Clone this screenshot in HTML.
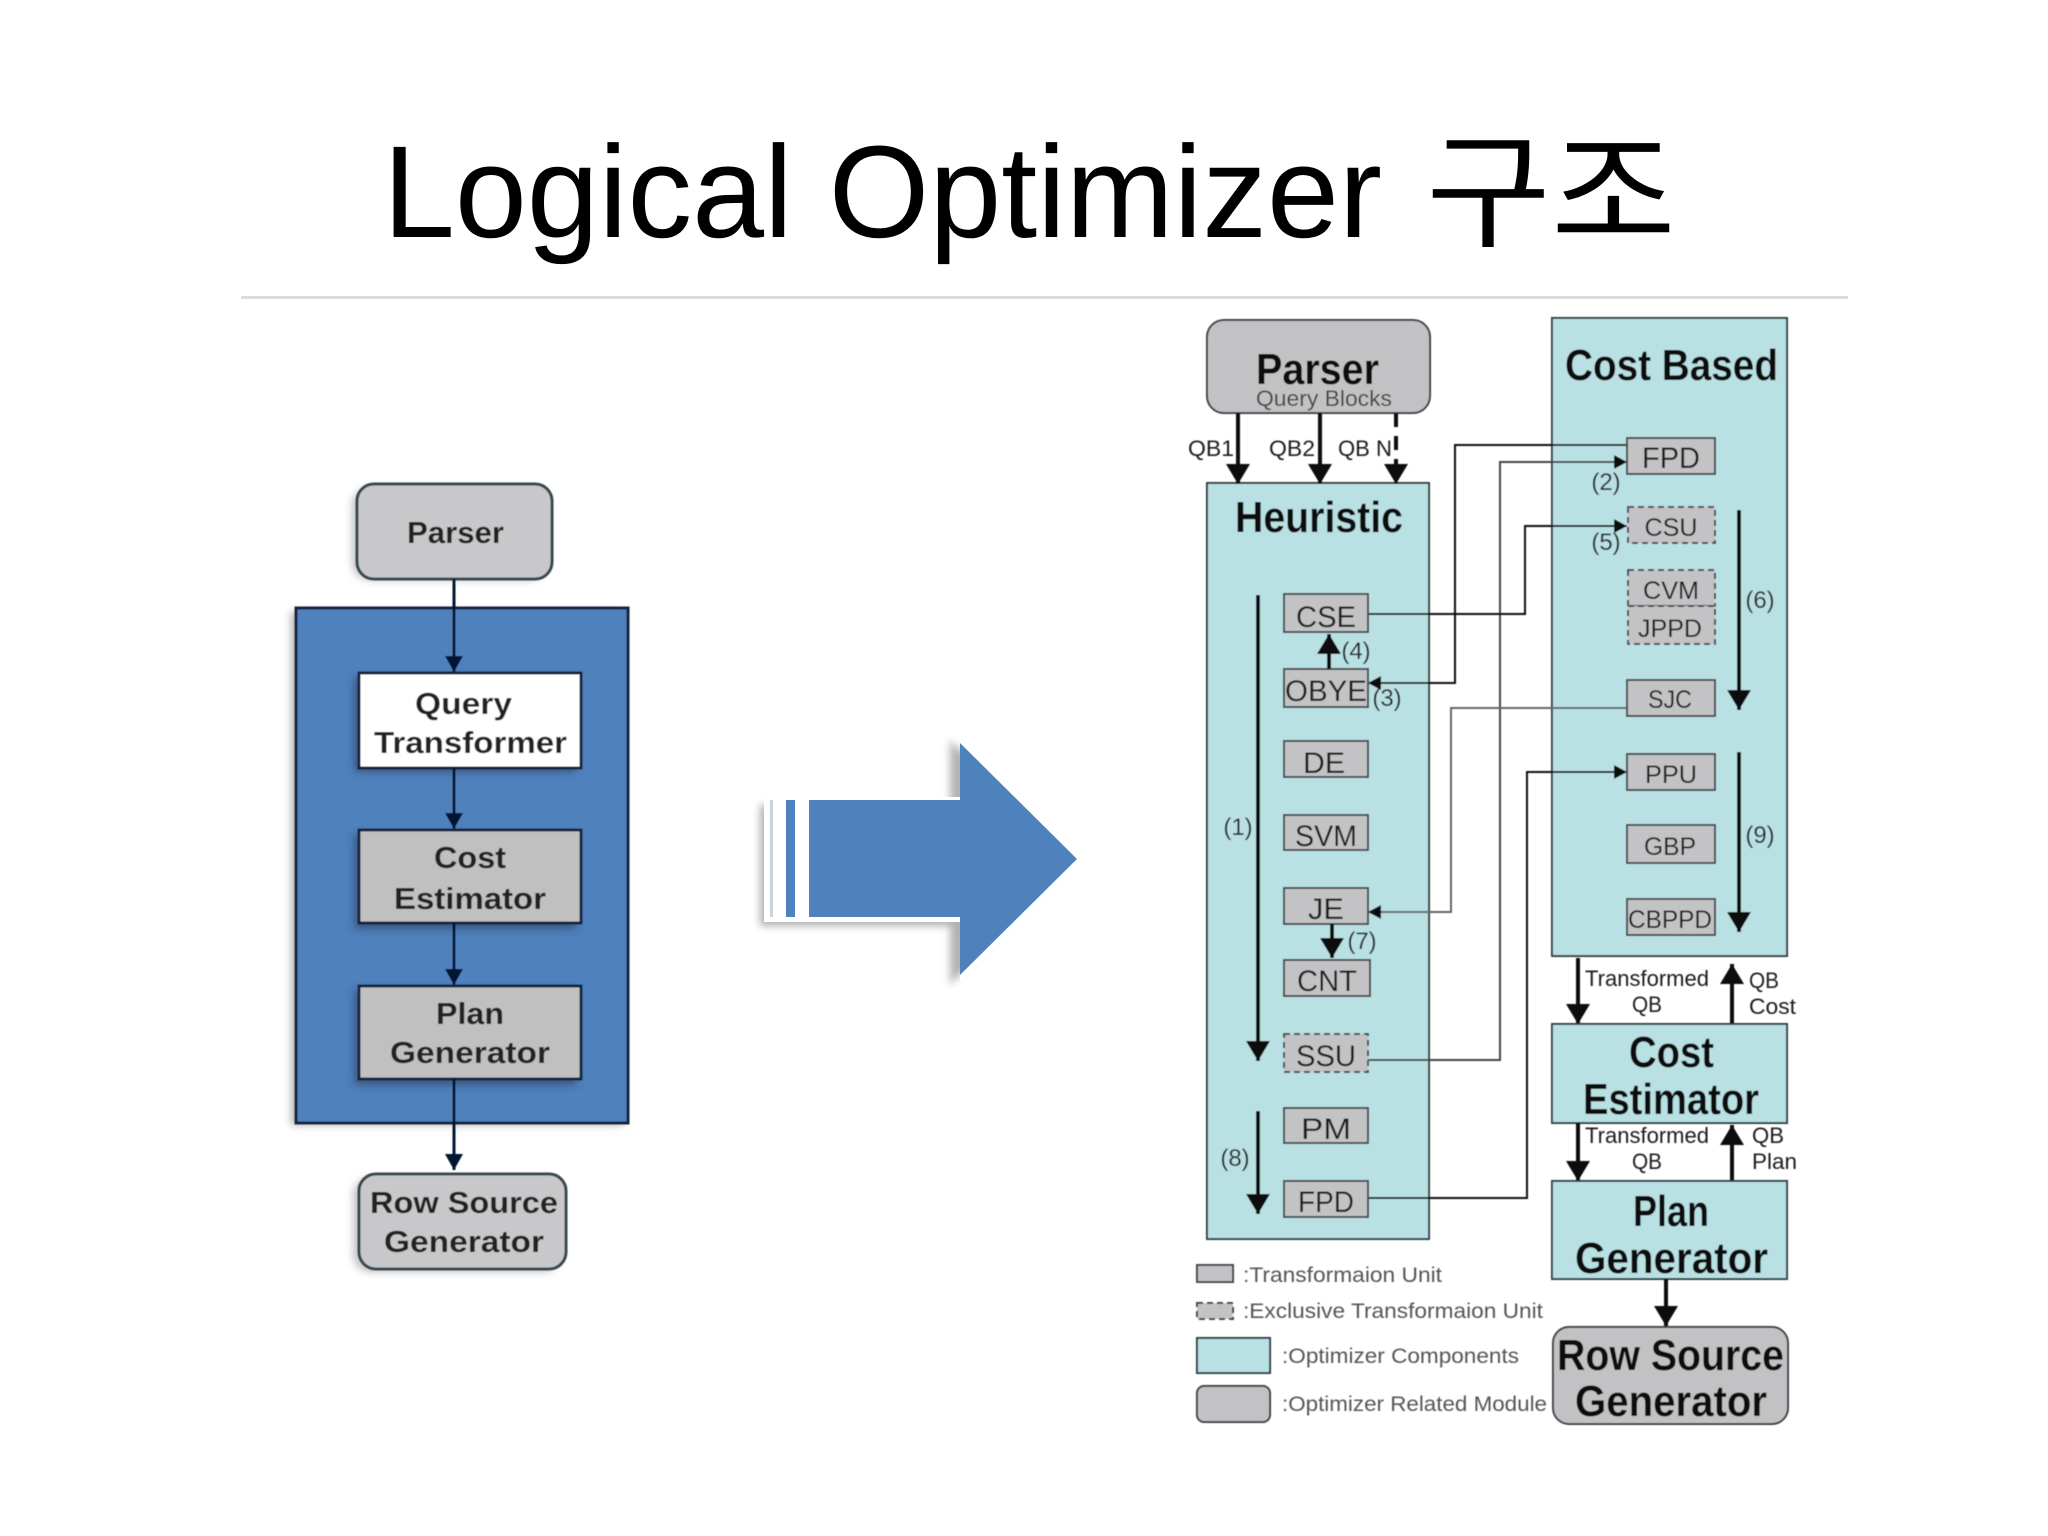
<!DOCTYPE html>
<html lang="ko"><head><meta charset="utf-8"><title>Logical Optimizer 구조</title>
<style>
html,body{margin:0;padding:0;background:#fff;width:2048px;height:1536px;overflow:hidden}
svg{display:block}
text{font-family:"Liberation Sans","Noto Sans CJK KR",sans-serif;fill:#111}
.u{fill:#c3c3c5;stroke:#454a4e;stroke-width:2}
.d{fill:#c3c3c5;stroke:#454a4e;stroke-width:2;stroke-dasharray:6 4}
.p{fill:#b9e0e3;stroke:#2f3f44;stroke-width:2}
.m{fill:#c2c2c4;stroke:#3d4246;stroke-width:2}
.l{fill:none;stroke:#111;stroke-width:2}
.g{fill:none;stroke:#666;stroke-width:2}
.b{fill:none;stroke:#0c0c0c;stroke-width:4}
.n{fill:none;stroke:#061433;stroke-width:3}
.ut{font-size:30px;fill:#1c1c1c;text-anchor:middle}
.us{font-size:25px;fill:#1c1c1c;text-anchor:middle}
.nm{font-size:24px;fill:#222;text-anchor:middle}
.lb{font-size:22px;fill:#1c1c1c}
.lg{font-size:21px;fill:#555}
.h{font-size:44px;font-weight:bold;fill:#0a0a0a}
.lt{font-size:31px;font-weight:bold;fill:#222}
</style></head><body>
<svg xmlns="http://www.w3.org/2000/svg" width="2048" height="1536" viewBox="0 0 2048 1536">
<defs>
<marker id="s" markerUnits="userSpaceOnUse" markerWidth="14" markerHeight="14" refX="13" refY="7" orient="auto"><path d="M0 0L13 7L0 14Z" fill="#111"/></marker>
<marker id="b" markerUnits="userSpaceOnUse" markerWidth="20" markerHeight="24" refX="20" refY="12" orient="auto"><path d="M0 0L20 12L0 24Z" fill="#0a0a0a"/></marker>
<marker id="n" markerUnits="userSpaceOnUse" markerWidth="16" markerHeight="18" refX="16" refY="9" orient="auto"><path d="M0 0L16 9L0 18Z" fill="#061433"/></marker>
<filter id="sh" x="-20%" y="-20%" width="140%" height="140%"><feGaussianBlur stdDeviation="4"/></filter>
<filter id="sf" x="-5%" y="-5%" width="110%" height="110%"><feGaussianBlur stdDeviation="0.6"/></filter>
</defs>
<rect width="2048" height="1536" fill="#fff"/>

<!-- Title -->
<text x="383" y="237" font-size="131" textLength="999" lengthAdjust="spacingAndGlyphs" style="fill:#000">Logical Optimizer</text>
<text x="1426" y="237" font-size="126" textLength="250" lengthAdjust="spacingAndGlyphs" style="fill:#000">구조</text>
<rect x="241" y="296" width="1607" height="3" fill="#dcdcdc"/>

<!-- Left diagram -->
<g filter="url(#sf)">
<rect x="291" y="612" width="332" height="513" fill="#777" filter="url(#sh)" opacity=".55"/>
<rect x="296" y="608" width="332" height="515" fill="#4f81bd" stroke="#14233c" stroke-width="3"/>
<rect x="352" y="488" width="194" height="92" rx="17" fill="#888" filter="url(#sh)" opacity=".5"/>
<rect x="357" y="484" width="195" height="95" rx="17" fill="#c8c8ca" stroke="#36464e" stroke-width="3"/>
<text x="407" y="543" class="lt" textLength="97" lengthAdjust="spacingAndGlyphs">Parser</text>

<path class="n" d="M454 579V672" marker-end="url(#n)"/>
<rect x="354" y="677" width="222" height="95" fill="#234" filter="url(#sh)" opacity=".5"/>
<rect x="359" y="673" width="222" height="95" fill="#fff" stroke="#14233c" stroke-width="3"/>
<text x="415" y="714" class="lt" textLength="97" lengthAdjust="spacingAndGlyphs">Query</text>
<text x="374" y="753" class="lt" textLength="193" lengthAdjust="spacingAndGlyphs">Transformer</text>

<path class="n" d="M454 768V829" marker-end="url(#n)"/>
<rect x="354" y="834" width="222" height="95" fill="#234" filter="url(#sh)" opacity=".5"/>
<rect x="359" y="830" width="222" height="93" fill="#c0c0c0" stroke="#14233c" stroke-width="3"/>
<text x="434" y="868" class="lt" textLength="72" lengthAdjust="spacingAndGlyphs">Cost</text>
<text x="394" y="909" class="lt" textLength="152" lengthAdjust="spacingAndGlyphs">Estimator</text>

<path class="n" d="M454 923V985" marker-end="url(#n)"/>
<rect x="354" y="990" width="222" height="95" fill="#234" filter="url(#sh)" opacity=".5"/>
<rect x="359" y="986" width="222" height="93" fill="#c0c0c0" stroke="#14233c" stroke-width="3"/>
<text x="436" y="1024" class="lt" textLength="68" lengthAdjust="spacingAndGlyphs">Plan</text>
<text x="390" y="1063" class="lt" textLength="160" lengthAdjust="spacingAndGlyphs">Generator</text>

<path class="n" d="M454 1079V1170" marker-end="url(#n)"/>
<rect x="353" y="1178" width="207" height="94" rx="17" fill="#888" filter="url(#sh)" opacity=".5"/>
<rect x="359" y="1174" width="207" height="95" rx="17" fill="#c8c8ca" stroke="#36464e" stroke-width="3"/>
<text x="370" y="1213" class="lt" textLength="188" lengthAdjust="spacingAndGlyphs">Row Source</text>
<text x="384" y="1252" class="lt" textLength="160" lengthAdjust="spacingAndGlyphs">Generator</text>
</g>

<!-- Big arrow -->
<path d="M760 805H950V740L1072 859L950 985V926H760Z" fill="#999" filter="url(#sh)" opacity=".75"/>
<path d="M764 797H960V738L1083 859L960 982V922H764Z" fill="#fff"/>
<path d="M809 800H960V743L1077 859L960 975V917H809Z" fill="#4f81bd"/>
<rect x="786" y="800" width="9" height="117" fill="#4f81bd"/>
<rect x="770" y="800" width="3" height="117" fill="#c9d3de"/>

<!-- Right diagram panels -->
<g filter="url(#sf)">
<rect x="1552" y="318" width="235" height="638" class="p"/>
<rect x="1207" y="483" width="222" height="756" class="p"/>
<rect x="1207" y="320" width="223" height="93" rx="17" class="m"/>
<text x="1256" y="384" class="h" textLength="123" lengthAdjust="spacingAndGlyphs">Parser</text>
<text x="1256" y="406" font-size="22" style="fill:#444" textLength="136" lengthAdjust="spacingAndGlyphs">Query Blocks</text>
<text x="1565" y="380" class="h" textLength="213" lengthAdjust="spacingAndGlyphs">Cost Based</text>
<text x="1235" y="532" class="h" textLength="168" lengthAdjust="spacingAndGlyphs">Heuristic</text>

<!-- Top arrows -->
<path class="b" d="M1238 413V484" marker-end="url(#b)"/>
<path class="b" d="M1320 413V484" marker-end="url(#b)"/>
<path class="b" d="M1396 413V484" stroke-dasharray="14 9" marker-end="url(#b)"/>
<text x="1188" y="456" class="lb" textLength="46" lengthAdjust="spacingAndGlyphs">QB1</text>
<text x="1269" y="456" class="lb" textLength="46" lengthAdjust="spacingAndGlyphs">QB2</text>
<text x="1338" y="456" class="lb" textLength="54" lengthAdjust="spacingAndGlyphs">QB N</text>

<!-- Connectors -->
<path class="l" d="M1627 445H1455V683H1368" marker-end="url(#s)"/>
<path class="l" d="M1367 1060H1500V462H1627" marker-end="url(#s)" style="stroke:#444"/>
<path class="l" d="M1367 614H1525V526H1627" marker-end="url(#s)"/>
<path class="g" d="M1627 708H1451V912H1368" marker-end="url(#s)"/>
<path class="l" d="M1367 1198H1527V772H1627" marker-end="url(#s)"/>

<!-- Heuristic units -->
<rect x="1284" y="594" width="84" height="38" class="u"/><text x="1326" y="627" class="ut" textLength="60" lengthAdjust="spacingAndGlyphs">CSE</text>
<rect x="1284" y="669" width="84" height="38" class="u"/><text x="1326" y="701" class="ut" textLength="82" lengthAdjust="spacingAndGlyphs">OBYE</text>
<rect x="1284" y="741" width="84" height="36" class="u"/><text x="1324" y="773" class="ut" textLength="42" lengthAdjust="spacingAndGlyphs">DE</text>
<rect x="1284" y="815" width="84" height="35" class="u"/><text x="1326" y="846" class="ut" textLength="62" lengthAdjust="spacingAndGlyphs">SVM</text>
<rect x="1284" y="888" width="84" height="36" class="u"/><text x="1326" y="919" class="ut" textLength="36" lengthAdjust="spacingAndGlyphs">JE</text>
<rect x="1284" y="960" width="86" height="36" class="u"/><text x="1327" y="991" class="ut" textLength="60" lengthAdjust="spacingAndGlyphs">CNT</text>
<rect x="1284" y="1034" width="84" height="38" class="d"/><text x="1326" y="1066" class="ut" textLength="60" lengthAdjust="spacingAndGlyphs">SSU</text>
<rect x="1284" y="1108" width="84" height="35" class="u"/><text x="1326" y="1139" class="ut" textLength="50" lengthAdjust="spacingAndGlyphs">PM</text>
<rect x="1284" y="1181" width="84" height="36" class="u"/><text x="1326" y="1212" class="ut" textLength="56" lengthAdjust="spacingAndGlyphs">FPD</text>

<path class="b" d="M1329 669V634" marker-end="url(#b)"/>
<path class="b" d="M1332 924V958" marker-end="url(#b)"/>
<path class="b" d="M1258 595V1061" marker-end="url(#b)"/>
<path class="b" d="M1258 1111V1214" marker-end="url(#b)"/>
<text x="1356" y="659" class="nm">(4)</text>
<text x="1387" y="706" class="nm">(3)</text>
<text x="1362" y="949" class="nm">(7)</text>
<text x="1238" y="835" class="nm">(1)</text>
<text x="1235" y="1166" class="nm">(8)</text>

<!-- Cost based units -->
<rect x="1627" y="438" width="88" height="36" class="u"/><text x="1671" y="468" class="ut" textLength="58" lengthAdjust="spacingAndGlyphs">FPD</text>
<rect x="1628" y="507" width="87" height="36" class="d"/><text x="1671" y="536" class="us" textLength="53" lengthAdjust="spacingAndGlyphs">CSU</text>
<rect x="1628" y="570" width="87" height="36" class="d"/><text x="1671" y="599" class="us" textLength="56" lengthAdjust="spacingAndGlyphs">CVM</text>
<rect x="1628" y="606" width="87" height="38" class="d"/><text x="1670" y="637" class="us" textLength="64" lengthAdjust="spacingAndGlyphs">JPPD</text>
<rect x="1627" y="680" width="88" height="36" class="u"/><text x="1670" y="708" class="us" textLength="44" lengthAdjust="spacingAndGlyphs">SJC</text>
<rect x="1627" y="754" width="88" height="36" class="u"/><text x="1671" y="783" class="us" textLength="52" lengthAdjust="spacingAndGlyphs">PPU</text>
<rect x="1627" y="825" width="88" height="38" class="u"/><text x="1670" y="855" class="us" textLength="52" lengthAdjust="spacingAndGlyphs">GBP</text>
<rect x="1627" y="899" width="88" height="36" class="u"/><text x="1670" y="928" class="us" textLength="84" lengthAdjust="spacingAndGlyphs">CBPPD</text>

<path class="b" d="M1739 510V710" marker-end="url(#b)"/>
<path class="b" d="M1739 752V932" marker-end="url(#b)"/>
<text x="1606" y="490" class="nm">(2)</text>
<text x="1606" y="550" class="nm">(5)</text>
<text x="1760" y="608" class="nm">(6)</text>
<text x="1760" y="843" class="nm">(9)</text>

<!-- Lower components -->
<path class="b" d="M1578 958V1024" marker-end="url(#b)"/>
<path class="b" d="M1732 1024V964" marker-end="url(#b)"/>
<text x="1585" y="986" class="lb" textLength="124" lengthAdjust="spacingAndGlyphs">Transformed</text>
<text x="1632" y="1012" class="lb" textLength="30" lengthAdjust="spacingAndGlyphs">QB</text>
<text x="1749" y="988" class="lb" textLength="30" lengthAdjust="spacingAndGlyphs">QB</text>
<text x="1749" y="1014" class="lb" textLength="47" lengthAdjust="spacingAndGlyphs">Cost</text>

<rect x="1552" y="1024" width="235" height="99" class="p"/>
<text x="1629" y="1067" class="h" textLength="85" lengthAdjust="spacingAndGlyphs">Cost</text>
<text x="1583" y="1114" class="h" textLength="176" lengthAdjust="spacingAndGlyphs">Estimator</text>

<path class="b" d="M1578 1123V1181" marker-end="url(#b)"/>
<path class="b" d="M1732 1181V1125" marker-end="url(#b)"/>
<text x="1585" y="1143" class="lb" textLength="124" lengthAdjust="spacingAndGlyphs">Transformed</text>
<text x="1632" y="1169" class="lb" textLength="30" lengthAdjust="spacingAndGlyphs">QB</text>
<text x="1752" y="1143" class="lb" textLength="32" lengthAdjust="spacingAndGlyphs">QB</text>
<text x="1752" y="1169" class="lb" textLength="45" lengthAdjust="spacingAndGlyphs">Plan</text>

<rect x="1552" y="1181" width="235" height="98" class="p"/>
<text x="1633" y="1226" class="h" textLength="76" lengthAdjust="spacingAndGlyphs">Plan</text>
<text x="1575" y="1273" class="h" textLength="193" lengthAdjust="spacingAndGlyphs">Generator</text>

<path class="b" d="M1666 1279V1326" marker-end="url(#b)"/>
<rect x="1553" y="1327" width="235" height="97" rx="16" class="m"/>
<text x="1557" y="1370" class="h" textLength="227" lengthAdjust="spacingAndGlyphs">Row Source</text>
<text x="1575" y="1416" class="h" textLength="192" lengthAdjust="spacingAndGlyphs">Generator</text>

<!-- Legend -->
<rect x="1197" y="1265" width="36" height="17" class="u"/>
<text x="1243" y="1282" class="lg" textLength="199" lengthAdjust="spacingAndGlyphs">:Transformaion Unit</text>
<rect x="1197" y="1303" width="36" height="16" class="d"/>
<text x="1243" y="1318" class="lg" textLength="300" lengthAdjust="spacingAndGlyphs">:Exclusive Transformaion Unit</text>
<rect x="1197" y="1338" width="73" height="35" class="p"/>
<text x="1282" y="1363" class="lg" textLength="237" lengthAdjust="spacingAndGlyphs">:Optimizer Components</text>
<rect x="1197" y="1386" width="73" height="36" rx="7" class="m"/>
<text x="1282" y="1411" class="lg" textLength="265" lengthAdjust="spacingAndGlyphs">:Optimizer Related Module</text>
</g>
</svg>
</body></html>
